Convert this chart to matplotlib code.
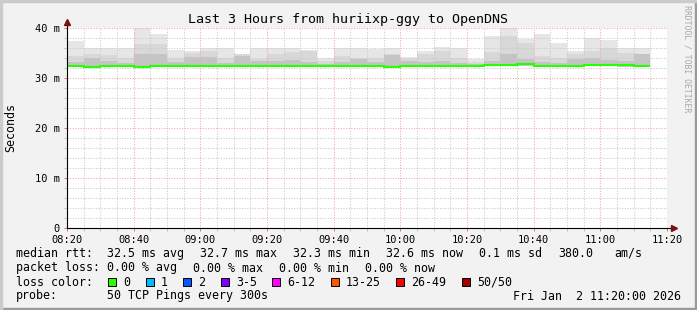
import matplotlib
matplotlib.use("Agg")
import matplotlib.pyplot as plt
from matplotlib.patches import Rectangle
import numpy as np

W, H = 697, 310
MONO = "DejaVu Sans Mono"

# 5 minute bins, minutes after 08:20
bin_edges = np.arange(0, 176, 5)
tick_minutes = [0, 20, 40, 60, 80, 100, 120, 140, 160, 180]
tick_labels = ["08:20", "08:40", "09:00", "09:20", "09:40", "10:00", "10:20", "10:40", "11:00", "11:20"]
y_ticks = [0, 10, 20, 30, 40]
y_labels = ["0", "10 m", "20 m", "30 m", "40 m"]

# median rtt per bin (ms)
rtt_median = [32.5, 32.3, 32.45, 32.5, 32.3, 32.5, 32.5, 32.5, 32.5, 32.5,
              32.5, 32.5, 32.5, 32.5, 32.5, 32.5, 32.5, 32.5, 32.5, 32.3,
              32.5, 32.5, 32.5, 32.5, 32.5, 32.7, 32.7, 32.8, 32.5, 32.5,
              32.5, 32.7, 32.7, 32.6, 32.5]
# smoke: lowest ping, then tops of dark / mid / light bands
smoke_lo = [32.2, 32.0, 32.2, 32.2, 32.0, 32.2, 32.2, 32.2, 32.2, 32.2,
            32.2, 32.2, 32.2, 32.2, 32.2, 32.2, 32.2, 32.2, 32.2, 32.0,
            32.2, 32.2, 32.2, 32.2, 32.2, 32.4, 32.4, 32.5, 32.2, 32.2,
            32.2, 32.4, 32.4, 32.3, 32.2]
smoke_dark = [33.2, 34.1, 33.5, 33.0, 34.8, 34.8, 33.3, 34.3, 34.3, 33.0,
              34.5, 33.5, 33.4, 33.6, 33.2, 32.9, 33.3, 33.8, 33.2, 34.6,
              33.5, 33.3, 33.5, 33.0, 32.9, 33.5, 34.8, 33.8, 33.2, 33.0,
              33.8, 34.0, 33.6, 33.4, 34.8]
smoke_mid = [34.5, 34.8, 34.6, 34.0, 36.8, 36.8, 34.1, 35.0, 35.5, 34.0,
             34.8, 33.8, 34.8, 35.2, 35.4, 33.5, 34.4, 34.0, 34.0, 34.8,
             33.9, 34.8, 35.4, 34.0, 33.3, 35.2, 38.5, 37.0, 34.5, 34.0,
             34.8, 35.5, 36.1, 35.0, 34.8]
smoke_max = [37.5, 36.1, 36.0, 36.0, 40.5, 38.8, 35.7, 35.5, 36.0, 36.0,
             34.8, 36.1, 36.1, 36.0, 35.7, 34.1, 36.0, 36.0, 35.9, 36.0,
             34.3, 35.4, 36.3, 36.1, 33.9, 38.5, 40.5, 37.9, 38.8, 37.1,
             35.5, 38.1, 37.7, 36.1, 36.0]

loss_labels = ["0", "1", "2", "3-5", "6-12", "13-25", "26-49", "50/50"]
loss_colors = ["#26ff00", "#00b8ff", "#0059ff", "#7e00ff", "#ff00ff", "#ff5500", "#ff0000", "#a10000"]

row1 = [("median rtt:", 16), ("32.5 ms avg", 107), ("32.7 ms max", 200), ("32.3 ms min", 293),
        ("32.6 ms now", 386), ("0.1 ms sd", 479), ("380.0", 558), ("am/s", 614)]
row2 = [("packet loss:", 16), ("0.00 % avg", 107), ("0.00 % max", 193), ("0.00 % min", 279),
        ("0.00 % now", 365)]


def fx(px):
    return px / W


def fy(py):
    return 1 - py / H


fig = plt.figure(figsize=(W / 100, H / 100), dpi=100, facecolor="#f2f2f2")
# 3d-ish frame like rrdtool
fig.patches.append(Rectangle((0, 0), 1, 2 / H, transform=fig.transFigure, color="#9a9a9a", zorder=0))
fig.patches.append(Rectangle((1 - 2 / W, 0), 2 / W, 1, transform=fig.transFigure, color="#9a9a9a", zorder=0))
fig.patches.append(Rectangle((0, 1 - 2 / H), 1, 2 / H, transform=fig.transFigure, color="#cbcbcb", zorder=0))
fig.patches.append(Rectangle((0, 0), 2 / W, 1, transform=fig.transFigure, color="#cbcbcb", zorder=0))

ax = fig.add_axes([fx(67), fy(228.3), 600 / W, 200 / H])
ax.set_facecolor("white")
ax.set_xlim(0, 180)
ax.set_ylim(0, 40)

# smoke
ax.stairs(smoke_max, bin_edges, baseline=smoke_lo, fill=True, color="#e6e6e6", lw=0, zorder=1)
ax.stairs(smoke_mid, bin_edges, baseline=smoke_lo, fill=True, color="#d8d8d8", lw=0, zorder=1.1)
ax.stairs(smoke_dark, bin_edges, baseline=smoke_lo, fill=True, color="#c4c4c4", lw=0, zorder=1.2)
ax.stairs(rtt_median, bin_edges, baseline=None, color=loss_colors[0], lw=1.5, zorder=3)

# grid
ax.set_xticks(tick_minutes)
ax.set_xticklabels(tick_labels, family=MONO, fontsize=7.5)
ax.set_xticks(np.arange(0, 181, 5), minor=True)
ax.set_yticks(y_ticks)
ax.set_yticklabels(y_labels, family=MONO, fontsize=7.5)
ax.set_yticks(np.arange(0, 41, 2), minor=True)
ax.set_axisbelow("line")
ax.grid(which="major", color="#f2a8a8", linestyle=(0, (1, 1.5)), linewidth=0.75)
ax.grid(which="minor", color="#cacaca", linestyle=(0, (1, 1.5)), linewidth=0.75)
ax.tick_params(which="major", length=2.5, width=0.7, color="#e07070", pad=2.5)
ax.tick_params(which="minor", length=2, width=0.7, color="#c0c0c0")
for s in ax.spines.values():
    s.set_visible(False)

# axes with arrows
ax.plot([0, 1.01], [0, 0], transform=ax.transAxes, color="black", lw=0.8, clip_on=False, zorder=5)
ax.plot([0, 0], [0, 1.02], transform=ax.transAxes, color="black", lw=0.8, clip_on=False, zorder=5)
ax.plot([1.012], [0], transform=ax.transAxes, marker=">", ms=4.5, color="#7a1010", clip_on=False, zorder=6)
ax.plot([0], [1.03], transform=ax.transAxes, marker="^", ms=4.5, color="#7a1010", clip_on=False, zorder=6)

# texts
fig.text(fx(347.5), fy(19), "Last 3 Hours from huriixp-ggy to OpenDNS", ha="center", va="center",
         family=MONO, fontsize=9.6)
fig.text(fx(10.8), fy(128), "Seconds", rotation=90, ha="center", va="center", family=MONO, fontsize=8.4)
fig.text(fx(687.5), fy(5), "RRDTOOL / TOBI OETIKER", rotation=-90, ha="center", va="top",
         family=MONO, fontsize=5.9, color="#a8a8a8")

for txt, x in row1:
    fig.text(fx(x), fy(253.5), txt, ha="left", va="center", family=MONO, fontsize=8.4)
for txt, x in row2:
    fig.text(fx(x), fy(268), txt, ha="left", va="center", family=MONO, fontsize=8.4)

fig.text(fx(16), fy(282), "loss color:", ha="left", va="center", family=MONO, fontsize=8.4)
bx = 108
for lab, col in zip(loss_labels, loss_colors):
    fig.patches.append(Rectangle((fx(bx), fy(286)), 8 / W, 8 / H, transform=fig.transFigure,
                                 facecolor=col, edgecolor="black", lw=0.7, zorder=3))
    fig.text(fx(bx + 15.5), fy(282), lab, ha="left", va="center", family=MONO, fontsize=8.4)
    bx = bx + 15.5 + 7.0 * len(lab) + 15

fig.text(fx(16), fy(296), "probe:", ha="left", va="center", family=MONO, fontsize=8.4)
fig.text(fx(107), fy(296), "50 TCP Pings every 300s", ha="left", va="center", family=MONO, fontsize=8.4)
fig.text(fx(681), fy(296), "Fri Jan  2 11:20:00 2026", ha="right", va="center", family=MONO, fontsize=8.4)

fig.savefig("out.png", dpi=100, facecolor=fig.get_facecolor())
